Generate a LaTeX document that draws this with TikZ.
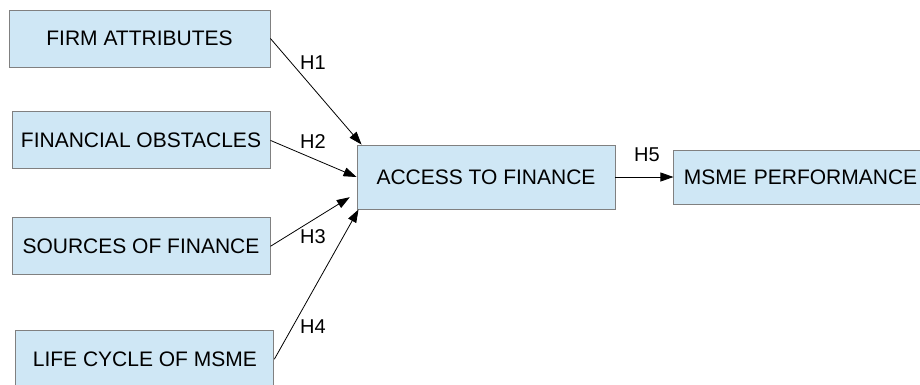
\documentclass[tikz,border=0pt]{standalone}
\usepackage{fontspec}
\setmainfont{Liberation Sans}
\usepackage{tikz}
\usetikzlibrary{arrows.meta,positioning,calc}

\definecolor{boxfill}{RGB}{207,231,245}
\definecolor{boxline}{RGB}{128,128,128}

\begin{document}
\begin{tikzpicture}[x=1pt,y=-1pt,%
         varbox/.style={rectangle,draw=boxline,fill=boxfill,line width=0.9pt,
                        minimum height=57pt,minimum width=258pt,inner sep=0pt,
                        font=\fontsize{21}{25}\selectfont},
         hyp/.style={font=\fontsize{20}{24}\selectfont,inner sep=0pt},
         hyparrow/.style={-{Triangle[length=13pt,width=9pt]},line width=0.8pt}]
        \useasboundingbox (0,0) rectangle (920,384);
        % independent variables
        \node [varbox,minimum width=261pt] (firm) at (139.5,38.5) {FIRM ATTRIBUTES};
        \node [varbox] (obstacles) [below=44pt of firm.south east,anchor=north east] {FINANCIAL OBSTACLES};
        \node [varbox] (sources) [below=48pt of obstacles.south east,anchor=north east] {SOURCES OF FINANCE};
        \node [varbox,minimum height=57pt] (lifecycle) [below=55pt of sources.south east,anchor=north west,xshift=-255pt] {LIFE CYCLE OF MSME};
        % mediator and outcome
        \node [varbox,minimum height=64pt] (access) at (486,177) {ACCESS TO FINANCE};
        \node [varbox,minimum height=54pt,minimum width=0pt,inner xsep=10pt,text width=244pt,align=left] (performance) [right=58pt of access] {MSME PERFORMANCE};
        % hypotheses
        \draw [hyparrow] (firm.east) -- ([xshift=5pt]access.north west);
        \draw [hyparrow] (obstacles.east) -- (access.west);
        \draw [hyparrow,shorten >=8pt] (sources.east) -- ([yshift=-16pt]access.west);
        \draw [hyparrow] (lifecycle.east) -- ([xshift=2pt]access.south west);
        \draw [hyparrow] (access.east) -- (performance.west);
        \node [hyp] (h1) at (313,63) {H1};
        \node [hyp] (h2) at (313,142) {H2};
        \node [hyp] (h3) at (313,237) {H3};
        \node [hyp] (h4) at (313,327) {H4};
        \node [hyp] (h5) at (647,155) {H5};
\end{tikzpicture}
\end{document}
